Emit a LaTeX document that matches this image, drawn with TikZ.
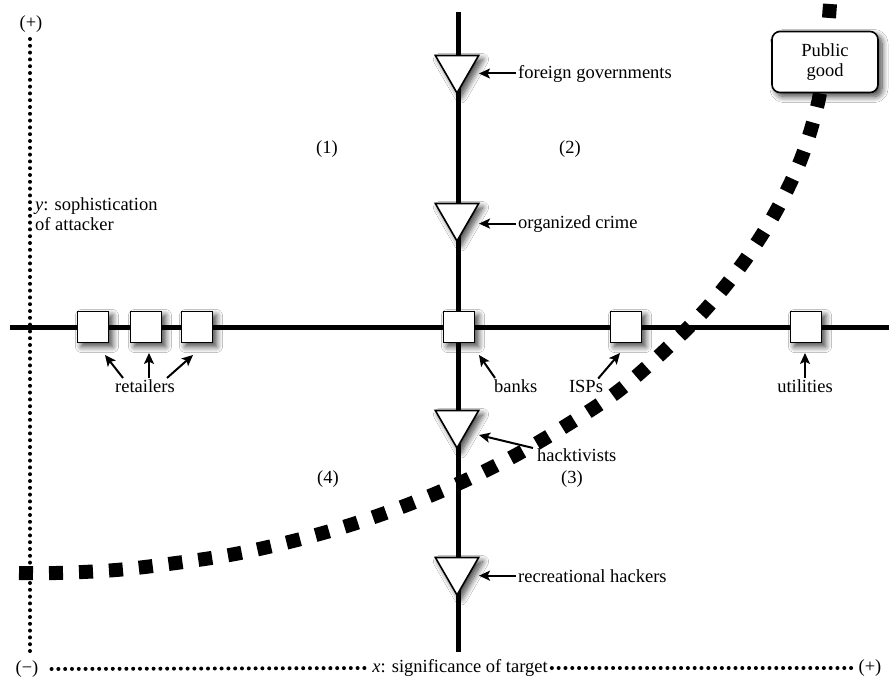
\documentclass[tikz,border=0pt]{standalone}
\usepackage{fontspec}
\setmainfont{Liberation Serif}
\usetikzlibrary{shapes.geometric,arrows.meta,shadows.blur}
\begin{document}
\begin{tikzpicture}[x=1pt,y=-1pt,
  lbl/.style={font=\fontsize{18.5}{20}\selectfont, inner sep=0pt},
  axisline/.style={line width=5pt},
  myshadow/.style={blur shadow={shadow xshift=4pt, shadow yshift=-4pt, shadow blur radius=6pt, shadow blur steps=10, shadow opacity=75}},
  sqbox/.style={draw, line width=1.6pt, fill=white, minimum size=31pt, inner sep=0pt, myshadow},
  tri/.style={draw, line width=1.6pt, fill=white, regular polygon, regular polygon sides=3, shape border rotate=180, minimum size=50pt, inner sep=0pt, myshadow},
  pgbox/.style={draw, line width=1.6pt, fill=white, rounded corners=8pt, minimum width=106pt, minimum height=61pt, align=center, inner sep=0pt, font=\fontsize{18.5}{20}\selectfont, myshadow},
  arr/.style={line width=2pt, -{Stealth[length=11pt,width=10pt,inset=2.5pt]}},
  dots/.style={line width=4pt, line cap=round, dash pattern=on 0pt off 6.8pt},
  curvestyle/.style={line width=14pt, dash pattern=on 14pt off 16pt},
]
\useasboundingbox[fill=white] (0,0) rectangle (889,686);

% coordinates for axes
\coordinate (hl) at (10,327);
\coordinate (hr) at (889,327);
\coordinate (vt) at (458,12);
\coordinate (vb) at (458,652);
\draw[axisline] (hl) -- (hr);
\draw[axisline] (vt) -- (vb);

% dotted axes and labels
\node[lbl] (yp) at (31,24) {(+)};
\coordinate (ybot) at (30,653);
\draw[dots] (30,39) -- (ybot);
\node[lbl] (xm) at (27,669) {(−)};
\node[lbl] (xl) at (460,668) {\textit{x}: significance of target};
\node[lbl] (xp) at (870,668) {(+)};
\draw[dots] ([xshift=13pt]xm.east) -- ([xshift=-4pt]xl.west);
\draw[dots] ([xshift=4pt]xl.east) -- ([xshift=-4pt]xp.west);
\node[lbl, anchor=base west, align=left] (ylab) at (35,230) {\textit{y}: sophistication\\of attacker};

% quadrant numbers
\node[lbl] (q1) at (327,149) {(1)};
\node[lbl] (q2) at (570,149) {(2)};
\node[lbl] (q3) at (572,479) {(3)};
\node[lbl] (q4) at (328,479) {(4)};

% curve
\draw[curvestyle] plot[smooth, tension=0.55] coordinates {(19,573) (56,573) (116,570) (176,563) (235,554) (293,541) (350,525) (407,505) (462,482) (516,455) (567,425) (617,392) (662,353) (705,310) (743,263) (775,213) (801,159) (818,103) (826,50) (830,4)};

% public good
\node[pgbox] (pg) at (825,62) {Public\\good};

% squares
\node[sqbox] (sq1) at (93,327) {};
\node[sqbox] (sq2) at (146,327) {};
\node[sqbox] (sq3) at (197,327) {};
\node[sqbox] (sq4) at (459,327) {};
\node[sqbox] (sq5) at (626,327) {};
\node[sqbox] (sq6) at (806,327) {};

% triangles
\node[tri] (t1) at (457,68) {};
\node[tri] (t2) at (457,216) {};
\node[tri] (t3) at (457,423) {};
\node[tri] (t4) at (457,570) {};

% attacker labels
\node[lbl, anchor=base west] (fg) at (518,78) {foreign governments};
\node[lbl, anchor=base west] (oc) at (518,228) {organized crime};
\node[lbl, anchor=base west] (hk) at (537,461) {hacktivists};
\node[lbl, anchor=base west] (rh) at (518,582) {recreational hackers};
\coordinate (fgtip) at (479,74);
\coordinate (octip) at (479,223);
\coordinate (hktip) at (479,435);
\coordinate (rhtip) at (479,577);
\draw[arr] ([xshift=-2pt]fg.west) -- (fgtip |- fg.west);
\draw[arr] ([xshift=-2pt]oc.west) -- (octip |- oc.west);
\draw[arr] ([xshift=-4pt]hk.north west) -- (hktip);
\draw[arr] ([xshift=-2pt]rh.west) -- (rhtip |- rh.west);

% target labels
\node[lbl, anchor=base] (rt) at (145,392) {retailers};
\node[lbl, anchor=base west] (bk) at (494,392) {banks};
\node[lbl, anchor=base] (isp) at (586,392) {ISPs};
\node[lbl, anchor=base] (utl) at (805,392) {utilities};
\coordinate (rtip1) at (105,355);
\coordinate (rtip2) at (149,353);
\coordinate (rtip3) at (193,355);
\coordinate (bktip) at (479,355);
\coordinate (isptip) at (620,353);
\coordinate (utip) at (806,353);
\draw[arr] ([xshift=-22pt,yshift=1pt]rt.north) -- (rtip1);
\draw[arr] ([xshift=4pt,yshift=1pt]rt.north) -- (rtip2);
\draw[arr] ([xshift=22pt,yshift=1pt]rt.north) -- (rtip3);
\draw[arr] ([xshift=1pt,yshift=1pt]bk.north west) -- (bktip);
\draw[arr] ([xshift=-5pt,yshift=1pt]isp.north east) -- (isptip);
\draw[arr] ([yshift=1pt]utl.north) -- (utl.north |- utip);
\end{tikzpicture}
\end{document}
